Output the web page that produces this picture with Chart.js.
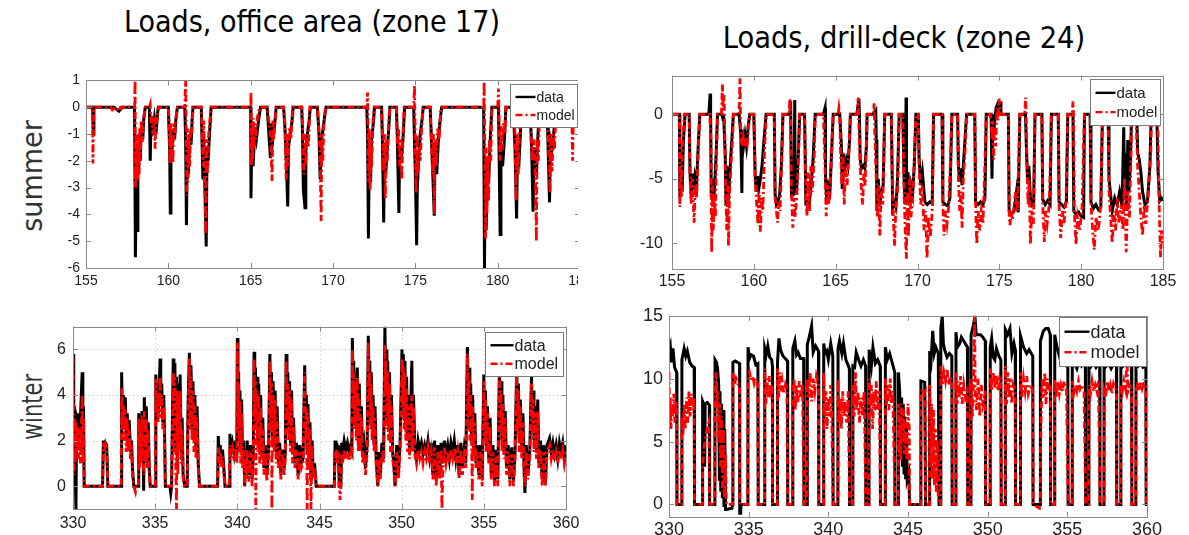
<!DOCTYPE html>
<html>
<head>
<meta charset="utf-8">
<script src="https://cdn.jsdelivr.net/npm/chart.js@4.4.0/dist/chart.umd.min.js"></script>
<style>
  body { margin: 0; width: 1189px; height: 535px; background: #fff; position: relative; overflow: hidden; }
  .lbl { position: absolute; white-space: nowrap; font-family: 'Liberation Sans Narrow', 'DejaVu Sans Condensed', 'Liberation Sans', sans-serif; font-size: 31px; color: #000; line-height: 1; }
  .row { color: #333; font-size: 29px; }
  canvas { position: absolute; }
  #clipTL { position: absolute; left: 0; top: 0; width: 578px; height: 305px; overflow: hidden; }
</style>
</head>
<body>
<div class="lbl" id="title1">Loads, office area (zone 17)</div>
<div class="lbl" id="title2">Loads, drill-deck (zone 24)</div>
<div class="lbl row" id="rowSummer">summer</div>
<div class="lbl row" id="rowWinter">winter</div>
<div id="clipTL"><canvas id="cTL"></canvas></div>
<canvas id="cTR"></canvas>
<canvas id="cBL"></canvas>
<canvas id="cBR"></canvas>
<script>
// --- ticks ---
const summerDays = [155, 160, 165, 170, 175, 180, 185];
const winterDays = [330, 335, 340, 345, 350, 355, 360];
const tlYTicks = [-6, -5, -4, -3, -2, -1, 0, 1];
const trYTicks = [-10, -5, 0];
const blYTicks = [0, 2, 4, 6];
const brYTicks = [0, 5, 10, 15];
const seriesNames = ['data', 'model'];

// --- summer, office area (zone 17): [day, load] ---
const tlData = [[155,0],[155.4,0],[155.44,-1.0],[155.48,0],[156.7,0],[156.8,-0.05],[157.0,-0.15],[157.2,0],
[157.95,0],[158.0,-5.6],[158.05,-3.0],[158.1,-4.6],[158.15,-1.5],[158.2,-2.5],[158.25,-1.0],[158.3,-2.0],[158.35,-0.8],[158.45,-1.2],[158.5,-0.5],[158.6,0],
[158.85,0],[158.9,-2.0],[158.95,-0.5],[159.05,-0.8],[159.15,-0.4],[159.25,-1.0],[159.35,-0.2],[159.4,0],
[160.0,0],[160.08,-1.6],[160.12,-3.95],[160.16,-1.0],[160.22,-1.6],[160.3,-0.8],[160.38,-1.2],[160.45,-0.5],[160.55,0],
[161.0,0],[161.05,-1.2],[161.1,-4.4],[161.15,-1.5],[161.22,-2.5],[161.3,-1.0],[161.38,-1.4],[161.45,-0.4],[161.5,0],
[162.0,0],[162.1,-2.7],[162.15,-1.0],[162.3,-5.2],[162.35,-1.5],[162.42,-2.0],[162.5,-1.0],[162.6,0],
[165.0,0],[165.02,-3.4],[165.07,-1.0],[165.15,-2.2],[165.25,-0.8],[165.35,-1.2],[165.5,-0.4],[165.6,0],
[166.0,0],[166.2,-1.9],[166.25,-0.6],[166.35,-1.2],[166.45,-0.7],[166.55,0],
[167.0,0],[167.1,-1.0],[167.2,-2.7],[167.25,-3.7],[167.3,-1.5],[167.4,-1.0],[167.5,-0.6],[167.58,0],
[168.1,0],[168.15,-1.0],[168.2,-3.1],[168.3,-3.75],[168.35,-1.5],[168.45,-1.0],[168.55,-0.5],[168.62,0],
[169.05,0],[169.15,-1.0],[169.22,-2.7],[169.3,-1.2],[169.4,-0.8],[169.5,-0.3],[169.58,0],
[172.05,0],[172.1,-1.0],[172.15,-4.9],[172.2,-2.0],[172.28,-2.8],[172.35,-1.2],[172.45,-0.6],[172.52,0],
[172.95,0],[173.0,-1.2],[173.08,-4.3],[173.12,-1.8],[173.2,-2.5],[173.3,-1.5],[173.4,-0.7],[173.45,0],
[173.85,0],[173.9,-1.0],[174.0,-3.95],[174.05,-1.5],[174.15,-2.0],[174.25,-1.2],[174.35,0],
[174.9,0],[175.0,-2.5],[175.08,-5.15],[175.12,-3.0],[175.2,-2.0],[175.3,-1.0],[175.4,-0.5],[175.48,0],
[175.9,0],[176.0,-1.5],[176.15,-4.05],[176.2,-1.5],[176.3,-2.5],[176.4,-1.2],[176.5,-0.5],[176.6,0],
[179.15,0],[179.2,-6.0],[179.25,-2.0],[179.3,-4.6],[179.38,-2.0],[179.45,-2.8],[179.55,-1.2],[179.65,0],
[180.05,0],[180.15,-4.75],[180.2,-1.5],[180.3,-2.2],[180.4,-1.3],[180.5,0],
[180.95,0],[181.05,-1.5],[181.15,-4.15],[181.2,-1.8],[181.3,-2.0],[181.38,-1.0],[181.45,0],
[181.95,0],[182.05,-1.2],[182.15,-3.9],[182.22,-1.5],[182.35,-2.5],[182.45,-1.0],[182.55,0],
[183.0,0],[183.15,-3.55],[183.2,-1.2],[183.3,-1.5],[183.4,-1.0],[183.5,-0.3],[183.6,0],
[184.5,0],[184.6,-0.4],[184.7,0],[185,-0.3]];

const tlModel = [[155,0],[155.4,0],[155.42,-2.1],[155.46,-0.2],[155.5,0],[156.5,0],[156.6,-0.1],[156.8,0],[157.0,-0.15],[157.1,0],
[157.95,0],[157.98,1.0],[158.0,-3.0],[158.03,-1.0],[158.06,-2.8],[158.1,-1.2],[158.14,-2.7],[158.18,-1.0],[158.22,-2.5],[158.26,-0.8],[158.3,-2.0],[158.35,-0.5],[158.42,-1.3],[158.5,-0.4],[158.6,0],
[158.85,0],[158.9,0.1],[158.95,-0.6],[159.0,-0.3],[159.05,-1.0],[159.1,-0.4],[159.2,-1.55],[159.25,-0.3],[159.3,-0.6],[159.38,0],
[160.0,0],[160.05,-0.5],[160.1,-2.1],[160.14,-0.6],[160.18,-1.8],[160.22,-0.8],[160.28,-2.1],[160.33,-0.6],[160.4,-1.0],[160.5,-0.2],[160.55,0],
[161.0,0],[161.05,1.0],[161.08,-0.5],[161.12,-3.3],[161.16,-0.8],[161.2,-2.8],[161.25,-1.0],[161.3,-2.2],[161.35,-0.8],[161.42,-1.0],[161.5,0],
[162.0,0],[162.05,-0.8],[162.1,-2.2],[162.15,-0.5],[162.2,-2.6],[162.27,-4.75],[162.32,-1.2],[162.38,-2.5],[162.45,-1.0],[162.55,-0.3],[162.62,0],
[165.0,0],[165.02,0.55],[165.05,-2.2],[165.08,-0.6],[165.12,-2.0],[165.16,-0.4],[165.2,-1.6],[165.26,-0.6],[165.32,-1.2],[165.4,-0.4],[165.55,0],
[166.0,0],[166.1,-0.5],[166.2,-1.0],[166.3,-2.75],[166.35,-0.5],[166.4,-1.2],[166.47,-0.6],[166.55,0],
[167.0,0],[167.08,-0.6],[167.15,-2.7],[167.2,-1.0],[167.28,-2.2],[167.35,-0.8],[167.45,-1.2],[167.55,0],
[168.1,0],[168.15,-0.6],[168.22,-2.5],[168.28,-1.0],[168.35,-2.2],[168.42,-1.0],[168.5,-1.5],[168.6,0],
[169.05,0],[169.12,-0.6],[169.2,-1.5],[169.28,-4.25],[169.32,-1.0],[169.38,-2.0],[169.45,-0.6],[169.55,0],
[172.05,0],[172.1,0.55],[172.13,-1.0],[172.17,-2.8],[172.2,-0.8],[172.25,-3.1],[172.3,-1.2],[172.35,-2.2],[172.42,-0.6],[172.5,0],
[172.95,0],[173.0,-0.8],[173.06,-2.4],[173.12,-1.0],[173.18,-3.4],[173.22,-1.2],[173.3,-2.0],[173.38,-0.6],[173.45,0],
[173.85,0],[173.92,-1.5],[173.98,-0.8],[174.05,-2.2],[174.1,-1.2],[174.18,-2.7],[174.25,-1.0],[174.32,0],
[174.9,0],[174.95,0.8],[175.0,-1.5],[175.05,-3.2],[175.1,-1.0],[175.15,-2.5],[175.22,-1.5],[175.3,-2.0],[175.38,-0.8],[175.48,0],
[175.9,0],[175.95,-1.0],[176.05,-2.5],[176.1,-1.0],[176.15,-4.0],[176.2,-1.2],[176.28,-2.2],[176.35,-0.8],[176.45,-1.2],[176.55,0],
[179.15,0],[179.18,0.95],[179.22,-2.0],[179.26,-4.9],[179.3,-1.5],[179.35,-4.0],[179.4,-1.8],[179.45,-3.5],[179.5,-1.2],[179.58,-2.0],[179.65,0],
[180.0,0],[180.05,0.7],[180.1,-0.8],[180.15,-2.0],[180.2,-0.7],[180.28,-1.6],[180.35,-0.6],[180.45,-1.0],[180.5,0],
[180.95,0],[181.0,0.5],[181.05,-1.0],[181.12,-3.5],[181.18,-1.0],[181.25,-2.5],[181.32,-1.0],[181.42,0],
[181.95,0],[182.0,-1.0],[182.1,-2.0],[182.2,-1.2],[182.3,-2.8],[182.35,-5.0],[182.4,-1.2],[182.47,-2.0],[182.55,0],
[183.0,0],[183.05,-0.8],[183.12,-2.0],[183.18,-3.2],[183.22,-1.0],[183.3,-2.4],[183.38,-1.0],[183.45,-1.6],[183.55,0],
[184.4,0],[184.5,-0.2],[184.55,-2.0],[184.6,-0.3],[184.7,0],[184.85,0.8],[184.9,-0.5],[185,0]];

// --- summer, drill-deck (zone 24) ---
const trData = [[155,0],[155.45,0],[155.48,-6.45],[155.55,-4.5],[155.62,-6.0],[155.7,-2.0],[155.8,0],[156.05,0],[156.1,-4.5],[156.18,-6.5],[156.25,-4.6],[156.32,-5.8],[156.4,-4.8],[156.5,-5.5],[156.6,-2.5],[156.7,0],
[157.25,0],[157.33,1.6],[157.36,0],[157.4,-6.4],[157.48,-5.0],[157.55,-6.6],[157.62,-5.2],[157.7,-3.0],[157.78,0],
[158.05,0],[158.12,-0.4],[158.15,0],[158.25,-3.0],[158.3,-7.0],[158.36,-4.0],[158.42,-7.0],[158.5,-5.5],[158.58,-3.5],[158.68,-1.5],[158.75,0],
[159.1,0],[159.2,-1.5],[159.27,-6.1],[159.3,-1.2],[159.38,-2.4],[159.46,-1.6],[159.55,-2.5],[159.65,-1.0],[159.75,0],
[160.0,0],[160.08,-4.7],[160.15,-6.0],[160.22,-4.8],[160.3,-5.8],[160.38,-5.2],[160.5,-4.0],[160.62,-2.0],[160.75,0],
[161.25,0],[161.3,-6.2],[161.38,-7.0],[161.48,-6.8],[161.58,-6.2],[161.68,-4.0],[161.78,0],
[162.2,0],[162.25,1.0],[162.3,-6.5],[162.38,-5.8],[162.45,-6.3],[162.5,1.1],[162.52,-6.0],[162.62,-5.8],[162.72,-3.0],[162.8,0],
[163.1,0],[163.18,-6.9],[163.28,-6.8],[163.38,-7.0],[163.5,-5.5],[163.62,-3.5],[163.75,0],
[164.25,0],[164.35,0.5],[164.38,-5.0],[164.45,-6.5],[164.55,-5.5],[164.65,-6.0],[164.75,-3.0],[164.85,0],
[165.25,0],[165.35,-2.5],[165.4,-5.8],[165.45,-3.0],[165.55,-4.2],[165.65,-3.5],[165.75,-4.0],[165.85,-2.0],[165.9,0],
[166.3,0],[166.42,1.2],[166.45,0],[166.5,-3.5],[166.58,-4.2],[166.68,-4.0],[166.78,-4.2],[166.88,-2.5],[166.92,0],
[167.3,0],[167.45,0.3],[167.48,-2.0],[167.52,-7.5],[167.6,-5.0],[167.7,-7.0],[167.8,-6.0],[167.9,-5.5],[168.0,0],
[168.4,0],[168.48,-7.2],[168.58,-6.8],[168.68,-7.2],[168.78,-5.0],[168.88,0],
[169.1,0],[169.18,-5.0],[169.25,-7.0],[169.3,1.3],[169.33,-6.8],[169.42,-4.5],[169.5,-6.8],[169.6,-5.5],[169.7,-6.2],[169.8,-4.0],[169.9,0],
[170.05,0],[170.1,-3.5],[170.2,-5.5],[170.3,-4.5],[170.45,-6.8],[170.6,-7.0],[170.75,-6.8],[170.9,-6.9],[170.98,0],
[171.5,0],[171.55,-6.8],[171.7,-7.0],[171.85,-7.1],[171.98,-6.5],[172.1,0],
[172.45,0],[172.5,-4.0],[172.58,-5.2],[172.65,-4.2],[172.72,-5.5],[172.8,-4.0],[172.9,-2.0],[173.0,0],
[173.5,0],[173.55,-6.8],[173.7,-7.0],[173.85,-6.8],[174.0,-7.0],[174.12,-6.5],[174.2,0],
[174.5,0],[174.55,-5.0],[174.6,0],[174.7,-0.8],[174.8,0.5],[174.9,0.8],[175.0,0.5],[175.05,1.0],[175.1,0],
[175.55,0],[175.6,-7.5],[175.75,-7.7],[175.9,-7.5],[176.05,-6.0],[176.15,-7.6],[176.25,0],
[176.6,0],[176.65,-2.5],[176.72,-5.0],[176.8,-4.0],[176.9,-6.5],[177.0,-7.0],[177.1,-6.8],[177.18,0],
[177.6,0],[177.65,-6.6],[177.8,-7.0],[177.95,-6.7],[178.1,-7.0],[178.18,0],
[178.6,0],[178.65,-6.8],[178.8,-7.0],[178.95,-7.2],[179.1,-6.8],[179.18,0],
[179.5,0],[179.55,-7.5],[179.7,-7.8],[179.85,-7.6],[180.0,-7.9],[180.15,-8.0],[180.2,0],
[180.55,0],[180.6,-6.8],[180.75,-7.3],[180.9,-7.0],[181.05,-7.4],[181.2,-7.2],[181.3,0],
[181.65,0],[181.7,-5.0],[181.78,-6.0],[181.9,-7.5],[182.05,-6.5],[182.2,-7.0],[182.35,-6.0],[182.5,-7.2],[182.6,-1.0],[182.65,-5.0],[182.7,-3.0],[182.78,-7.5],[182.85,-2.0],[182.92,-6.0],[183.0,-4.0],[183.08,0],
[183.4,0],[183.45,-3.0],[183.55,-3.5],[183.65,-4.5],[183.75,-6.0],[183.9,-7.0],[184.05,-6.8],[184.2,-4.0],[184.28,0],
[184.62,0],[184.7,-4.5],[184.8,-6.7],[184.9,-6.5],[185,-6.7]];

const trModel = [[155,0],[155.45,0],[155.48,-7.2],[155.52,-4.0],[155.58,-6.5],[155.65,-2.5],[155.75,0],[156.05,0],[156.1,-5.0],[156.18,-7.0],[156.25,-5.0],[156.35,-8.4],[156.42,-5.5],[156.5,-6.5],[156.6,-3.0],[156.7,0],
[157.3,0],[157.38,-2.0],[157.42,-10.7],[157.48,-5.5],[157.52,-9.0],[157.58,-6.5],[157.65,-8.0],[157.72,-3.0],[157.78,0],
[158.02,0],[158.08,2.3],[158.12,0.5],[158.18,1.5],[158.22,-1.0],[158.28,-6.0],[158.35,-9.0],[158.4,-5.5],[158.45,-10.2],[158.52,-6.0],[158.6,-4.0],[158.7,-2.0],[158.75,0],
[159.1,0],[159.15,2.8],[159.2,-1.5],[159.28,-2.5],[159.35,-1.8],[159.42,-2.6],[159.5,-1.8],[159.6,-2.3],[159.68,-1.0],[159.75,0],
[160.0,0],[160.08,-5.0],[160.15,-6.5],[160.25,-8.5],[160.32,-6.0],[160.4,-9.1],[160.48,-6.5],[160.55,-7.5],[160.65,-3.0],[160.75,0],
[161.25,0],[161.3,-6.5],[161.38,-7.5],[161.45,-8.4],[161.52,-6.8],[161.6,-7.5],[161.7,-4.0],[161.78,0],
[162.15,0],[162.2,1.2],[162.25,0],[162.3,-6.0],[162.38,-8.8],[162.45,-6.5],[162.52,-8.0],[162.62,-6.5],[162.72,-3.5],[162.8,0],
[163.1,0],[163.18,-6.5],[163.25,-7.9],[163.32,-4.5],[163.4,-7.5],[163.48,-4.0],[163.58,-6.0],[163.7,-3.0],[163.75,0],
[164.25,0],[164.35,-4.0],[164.42,-7.9],[164.5,-5.5],[164.58,-7.0],[164.68,-5.0],[164.78,-2.0],[164.85,0],
[165.15,0],[165.2,0.5],[165.25,0],[165.3,-3.0],[165.38,-5.5],[165.45,-3.0],[165.52,-7.0],[165.6,-4.0],[165.7,-5.5],[165.8,-3.0],[165.9,0],
[166.3,0],[166.38,1.3],[166.42,-1.0],[166.5,-4.0],[166.58,-6.0],[166.65,-7.0],[166.72,-4.5],[166.8,-5.5],[166.88,-2.0],[166.92,0],
[167.3,0],[167.35,0.85],[167.4,-2.0],[167.48,-5.0],[167.55,-8.0],[167.62,-5.5],[167.7,-9.4],[167.78,-6.0],[167.88,-7.0],[167.95,-3.0],[168.0,0],
[168.4,0],[168.45,-4.0],[168.52,-8.0],[168.6,-10.2],[168.68,-7.0],[168.78,-6.0],[168.88,0],
[169.1,0],[169.18,-6.0],[169.25,-9.0],[169.32,-11.2],[169.38,-6.0],[169.45,-9.5],[169.52,-5.0],[169.6,-8.0],[169.7,-6.5],[169.8,-4.0],[169.9,0],
[170.05,0],[170.1,-4.0],[170.2,-7.0],[170.3,-5.5],[170.4,-9.0],[170.5,-7.5],[170.58,-11.2],[170.67,-8.0],[170.78,-9.5],[170.9,-7.5],[170.98,0],
[171.5,0],[171.55,-7.0],[171.62,-9.4],[171.7,-7.5],[171.8,-8.5],[171.9,-7.2],[172.0,-4.0],[172.1,0],
[172.45,0],[172.5,-5.0],[172.58,-7.5],[172.65,-6.0],[172.72,-8.8],[172.8,-5.0],[172.9,-3.0],[173.0,0],
[173.5,0],[173.55,-7.0],[173.62,-10.1],[173.7,-7.5],[173.8,-9.0],[173.9,-7.5],[174.0,-8.5],[174.12,-4.0],[174.2,0],
[174.45,0],[174.5,-0.5],[174.55,-2.0],[174.6,-0.5],[174.65,-3.5],[174.7,-1.0],[174.78,-2.5],[174.85,0.5],[174.92,-0.5],[174.98,1.2],[175.05,0.6],[175.1,0],
[175.55,0],[175.6,-7.8],[175.65,-8.6],[175.72,-7.5],[175.8,-8.2],[175.9,-7.0],[176.0,-6.0],[176.1,-7.5],[176.2,-3.0],[176.25,0],
[176.55,0],[176.6,1.3],[176.64,0],[176.68,-3.0],[176.75,-7.0],[176.82,-5.0],[176.9,-10.1],[176.98,-7.5],[177.08,-8.5],[177.18,0],
[177.6,0],[177.65,-7.0],[177.75,-9.9],[177.82,-7.5],[177.92,-8.5],[178.05,-7.0],[178.18,0],
[178.6,0],[178.65,-7.0],[178.75,-9.6],[178.85,-7.5],[178.95,-8.5],[179.08,-6.5],[179.18,0],
[179.45,0],[179.5,1.0],[179.53,0],[179.58,-7.5],[179.68,-10.1],[179.78,-8.0],[179.9,-9.0],[180.05,-7.5],[180.2,0],
[180.55,0],[180.6,-7.0],[180.7,-9.0],[180.8,-10.5],[180.9,-8.0],[181.05,-9.0],[181.2,-7.0],[181.3,0],
[181.65,0],[181.7,-6.0],[181.8,-8.0],[181.9,-10.0],[182.0,-7.5],[182.1,-9.0],[182.2,-6.5],[182.3,-8.5],[182.45,-7.0],[182.55,-9.0],[182.65,-5.0],[182.75,-10.7],[182.85,-6.0],[182.95,-8.0],[183.05,-3.0],[183.1,0],
[183.25,0],[183.3,1.0],[183.35,0],[183.45,-4.0],[183.55,-6.0],[183.65,-8.0],[183.75,-9.4],[183.85,-7.0],[183.95,-8.5],[184.1,-6.0],[184.25,-3.0],[184.3,0],
[184.6,0],[184.65,1.2],[184.7,-2.0],[184.78,-8.0],[184.85,-11.1],[184.92,-9.0],[185,-10.0]];

// --- winter, office area (zone 17) ---
const blData = [[330,5.8],[330.03,3.4],[330.06,1.0],[330.1,3.3],[330.14,0.5],[330.18,-1.0],[330.22,3.0],[330.28,2.8],[330.34,3.2],[330.4,2.0],[330.45,3.0],[330.56,5.0],[330.6,1.5],[330.64,3.5],[330.68,0],
[331.8,0],[331.85,2.0],[331.92,1.7],[331.98,1.9],[332.05,1.8],[332.12,0],
[332.93,0],[332.96,5.0],[333.0,3.0],[333.06,4.0],[333.12,2.5],[333.18,3.9],[333.24,2.0],[333.3,3.2],[333.36,1.8],[333.42,2.9],[333.5,1.5],[333.56,2.0],[333.62,0.8],[333.7,0],
[333.98,0],[334.0,3.2],[334.05,1.0],[334.1,3.0],[334.15,1.2],[334.2,3.3],[334.26,2.0],[334.3,-0.2],[334.34,3.9],[334.4,1.5],[334.46,3.5],[334.52,1.0],[334.58,2.8],[334.64,0.8],[334.7,0],
[335.0,0],[335.04,4.9],[335.08,3.6],[335.13,4.3],[335.18,3.2],[335.24,4.2],[335.3,5.6],[335.34,3.5],[335.4,4.5],[335.46,2.8],[335.52,4.0],[335.58,2.0],[335.62,0],[335.9,0],[335.95,-0.3],[336.0,0],
[336.05,3.0],[336.1,5.6],[336.14,2.0],[336.2,5.4],[336.25,1.5],[336.3,4.8],[336.35,0.8],[336.4,4.5],[336.46,2.0],[336.52,4.9],[336.58,1.5],[336.64,3.0],[336.7,0.5],[336.8,0],
[336.95,0],[337.0,3.5],[337.08,5.85],[337.12,3.0],[337.18,5.3],[337.24,2.5],[337.3,4.6],[337.36,2.0],[337.42,4.0],[337.48,1.5],[337.55,3.5],[337.62,1.0],[337.7,0],
[338.8,0],[338.84,2.2],[338.9,1.2],[338.96,1.8],[339.02,1.0],[339.1,1.6],[339.18,0.8],[339.25,0],[339.5,0],[339.55,2.3],[339.6,1.5],[339.7,1.9],[339.8,1.4],[339.9,2.0],[339.97,1.2],
[340.0,6.5],[340.04,3.0],[340.08,5.0],[340.12,2.0],[340.16,4.2],[340.2,1.5],[340.26,3.8],[340.32,1.0],[340.38,2.0],[340.45,0],[340.5,1.5],[340.55,0.5],[340.6,2.0],[340.7,0.5],[340.8,1.8],[340.9,0.3],[340.97,1.5],
[341.02,5.9],[341.06,3.5],[341.1,5.2],[341.15,2.5],[341.2,4.8],[341.25,2.0],[341.3,4.5],[341.36,1.5],[341.42,4.0],[341.48,1.2],[341.55,3.0],[341.62,0.8],[341.7,1.8],[341.8,0.5],[341.9,1.5],
[341.98,5.8],[342.03,3.0],[342.08,5.0],[342.13,2.2],[342.18,4.6],[342.24,1.8],[342.3,4.2],[342.36,1.5],[342.42,3.5],[342.5,1.0],[342.58,1.9],[342.65,0.5],[342.75,1.6],[342.85,0.8],[342.92,1.5],
[342.97,5.8],[343.02,3.5],[343.07,5.0],[343.12,2.5],[343.18,4.6],[343.24,1.8],[343.3,4.2],[343.36,1.5],[343.42,3.0],[343.5,1.0],[343.6,1.9],[343.7,0.5],[343.8,1.8],[343.9,1.0],[344.0,1.2],
[344.1,5.3],[344.15,2.5],[344.2,4.0],[344.25,1.5],[344.3,3.6],[344.36,1.0],[344.42,2.8],[344.48,0.3],[344.55,2.0],[344.62,0.5],[344.7,1.0],[344.8,0],
[345.9,0],[345.95,2.0],[346.0,1.5],[346.05,1.9],[346.1,1.4],[346.15,1.8],[346.2,0],[346.3,0],[346.35,1.9],[346.4,1.5],[346.5,2.0],[346.6,1.6],[346.7,1.9],[346.8,1.5],[346.9,1.8],[346.97,1.6],
[347.0,6.5],[347.04,4.0],[347.08,5.5],[347.12,3.0],[347.18,5.0],[347.24,2.5],[347.3,5.2],[347.36,2.0],[347.42,4.5],[347.48,1.8],[347.55,3.5],[347.62,1.5],[347.7,1.9],[347.8,0.8],[347.9,1.8],
[347.97,6.6],[348.02,4.5],[348.06,5.5],[348.1,3.0],[348.15,5.0],[348.2,2.5],[348.26,4.0],[348.32,1.8],[348.38,3.5],[348.45,1.2],[348.55,0],[348.6,1.5],[348.7,0.5],[348.8,1.9],[348.9,1.2],
[348.98,7.0],[349.02,4.5],[349.06,6.0],[349.1,3.0],[349.15,5.5],[349.2,2.5],[349.26,5.0],[349.32,2.0],[349.38,4.0],[349.45,1.5],[349.52,1.0],[349.6,0],[349.7,1.8],[349.8,0.5],[349.9,1.8],
[350.02,6.0],[350.06,4.0],[350.1,5.8],[350.15,3.0],[350.2,5.5],[350.25,2.5],[350.3,4.8],[350.36,2.0],[350.42,4.0],[350.48,1.5],[350.55,3.5],[350.62,5.5],[350.66,2.0],[350.72,4.0],[350.8,1.7],[350.9,1.2],
[351.0,2.0],[351.1,1.6],[351.2,1.9],[351.3,1.4],[351.4,1.8],[351.5,1.5],[351.6,2.0],[351.7,1.3],[351.8,1.9],[351.9,0.5],[352.0,2.0],[352.1,0.3],[352.2,1.8],[352.3,0.5],[352.4,1.9],[352.5,1.0],[352.6,2.0],[352.7,1.4],[352.8,1.8],[352.9,1.2],
[353.0,1.9],[353.1,1.5],[353.2,2.0],[353.3,1.2],[353.4,1.8],[353.5,0.5],[353.6,1.9],[353.7,0.8],[353.8,1.6],[353.9,1.0],
[354.0,6.1],[354.05,3.5],[354.1,5.2],[354.15,2.5],[354.2,4.5],[354.26,2.0],[354.32,4.0],[354.38,1.5],[354.45,3.2],[354.52,1.0],[354.6,1.8],[354.7,0.5],[354.8,1.8],[354.9,0.3],
[355.0,4.9],[355.05,2.5],[355.1,4.2],[355.15,1.8],[355.22,3.5],[355.3,1.2],[355.38,3.0],[355.45,0.5],[355.55,1.8],[355.65,0.2],[355.75,1.6],[355.85,0.3],
[355.95,5.2],[356.0,3.0],[356.05,4.6],[356.1,2.0],[356.16,4.0],[356.22,1.5],[356.3,3.3],[356.38,0.8],[356.48,1.8],[356.58,0.3],[356.7,1.7],[356.8,0.2],[356.9,1.5],
[357.0,5.2],[357.05,3.0],[357.1,4.5],[357.15,2.0],[357.22,3.8],[357.3,1.5],[357.38,3.2],[357.45,0.8],[357.5,-0.3],[357.58,1.8],[357.68,0.5],[357.8,1.6],
[357.9,4.8],[357.95,3.0],[358.0,4.2],[358.05,2.0],[358.12,3.5],[358.2,1.5],[358.28,3.8],[358.35,1.0],[358.45,2.0],[358.55,0.3],[358.65,1.8],[358.75,0.2],[358.85,1.8],
[359.0,2.1],[359.1,1.5],[359.2,1.9],[359.3,1.4],[359.4,1.8],[359.5,1.2],[359.6,1.9],[359.7,1.5],[359.8,1.9],[359.9,1.2],[360,1.8]];

const blModel = [[330,5.6],[330.03,3.0],[330.06,0.5],[330.1,3.0],[330.14,1.0],[330.18,2.8],[330.22,1.5],[330.28,2.6],[330.34,1.2],[330.4,2.5],[330.45,1.0],[330.56,4.0],[330.6,1.0],[330.64,3.0],[330.68,0],
[331.8,0],[331.85,1.9],[331.92,1.5],[331.98,1.8],[332.05,1.6],[332.12,0],
[332.93,0],[332.97,4.3],[333.0,2.5],[333.06,3.6],[333.12,2.0],[333.18,3.4],[333.24,1.5],[333.3,3.0],[333.36,1.5],[333.42,2.5],[333.5,1.2],[333.56,1.8],[333.62,0.5],[333.7,0],[333.8,-0.25],[333.85,0],
[333.98,0],[334.0,3.0],[334.05,0.8],[334.1,2.8],[334.15,1.0],[334.2,3.1],[334.26,1.5],[334.3,0.5],[334.34,3.3],[334.4,1.2],[334.46,3.0],[334.52,0.8],[334.58,2.5],[334.64,0.5],[334.7,0],
[335.0,0],[335.04,4.7],[335.08,3.2],[335.13,4.0],[335.18,2.8],[335.24,3.8],[335.3,4.8],[335.34,3.0],[335.4,4.0],[335.46,2.5],[335.52,3.5],[335.58,1.5],[335.62,0],[336.0,0],
[336.05,2.5],[336.1,5.0],[336.14,1.5],[336.2,4.8],[336.25,1.0],[336.3,-1.0],[336.33,4.2],[336.38,0.5],[336.42,4.0],[336.48,1.5],[336.52,4.2],[336.58,1.0],[336.64,2.5],[336.7,0.3],[336.8,0],
[336.95,0],[337.0,3.0],[337.08,5.6],[337.12,2.5],[337.18,4.8],[337.24,2.0],[337.3,4.2],[337.36,1.5],[337.42,3.5],[337.48,1.2],[337.55,3.0],[337.62,0.8],[337.7,0],
[338.8,0],[338.84,1.7],[338.9,1.0],[338.96,1.5],[339.02,0.8],[339.1,1.3],[339.18,0.5],[339.25,0],[339.5,0],[339.55,1.8],[339.6,1.2],[339.7,1.6],[339.8,1.1],[339.9,1.7],[339.97,1.0],
[340.0,6.3],[340.04,2.5],[340.08,4.5],[340.12,1.5],[340.16,3.8],[340.2,1.0],[340.26,3.2],[340.32,0.8],[340.38,1.6],[340.45,0],[340.5,1.2],[340.55,0.3],[340.6,1.6],[340.7,0.2],[340.8,1.5],[340.9,0],[340.97,1.2],
[341.02,5.6],[341.06,3.0],[341.1,4.6],[341.12,-1.0],[341.15,2.0],[341.2,4.2],[341.25,1.5],[341.3,4.0],[341.36,1.0],[341.42,3.5],[341.48,1.0],[341.55,2.5],[341.62,0.5],[341.7,1.5],[341.8,0.2],[341.9,1.2],
[341.98,5.5],[342.03,2.5],[342.08,4.5],[342.1,-1.0],[342.13,1.8],[342.18,4.0],[342.24,1.5],[342.3,3.8],[342.36,1.0],[342.42,3.0],[342.5,0.8],[342.58,1.6],[342.65,0.3],[342.75,1.4],[342.85,0.5],[342.92,1.2],
[342.97,5.5],[343.02,3.0],[343.07,4.5],[343.12,2.0],[343.18,4.2],[343.24,1.5],[343.3,3.8],[343.36,1.0],[343.42,2.6],[343.5,0.8],[343.6,1.6],[343.7,0.3],[343.8,1.5],[343.9,0.8],[344.0,1.0],
[344.1,5.0],[344.15,2.0],[344.2,3.5],[344.25,-1.0],[344.3,3.2],[344.36,0.8],[344.42,2.5],[344.48,-1.0],[344.55,1.8],[344.62,0.3],[344.7,0.8],[344.8,0],
[345.9,0],[345.95,1.5],[346.0,1.2],[346.05,1.6],[346.1,1.0],[346.15,1.5],[346.2,0],[346.25,-0.6],[346.3,0],[346.35,1.4],[346.4,1.0],[346.5,1.6],[346.6,1.2],[346.7,1.5],[346.8,1.1],[346.9,1.5],[346.97,1.2],
[347.0,6.0],[347.04,3.5],[347.08,5.0],[347.12,2.5],[347.18,4.5],[347.24,2.0],[347.3,4.8],[347.36,1.5],[347.42,4.0],[347.48,1.5],[347.55,3.0],[347.62,1.0],[347.7,1.5],[347.8,0.5],[347.9,1.5],
[347.97,6.3],[348.02,4.0],[348.06,5.0],[348.1,2.5],[348.15,4.5],[348.2,2.0],[348.26,3.5],[348.32,1.5],[348.38,3.0],[348.45,0.8],[348.55,0],[348.6,1.2],[348.7,0.3],[348.8,1.5],[348.9,1.0],
[348.98,6.2],[349.02,4.0],[349.06,5.5],[349.1,2.5],[349.15,5.0],[349.2,2.0],[349.26,4.5],[349.32,1.5],[349.38,3.5],[349.45,1.2],[349.52,0.8],[349.6,0],[349.7,1.5],[349.8,0.3],[349.9,1.5],
[350.02,5.6],[350.06,3.5],[350.1,5.3],[350.15,2.5],[350.2,5.0],[350.25,2.0],[350.3,4.3],[350.36,1.5],[350.42,3.5],[350.48,1.2],[350.55,3.0],[350.62,4.0],[350.66,1.5],[350.72,3.5],[350.8,1.4],[350.9,1.0],
[351.0,1.6],[351.1,1.2],[351.2,1.5],[351.3,1.0],[351.4,1.5],[351.5,1.2],[351.6,1.7],[351.7,1.0],[351.8,1.5],[351.9,0.3],[352.0,1.7],[352.1,0],[352.2,1.5],[352.3,0.3],[352.4,1.6],[352.45,-1.0],[352.5,0.5],[352.6,1.7],[352.7,1.0],[352.8,1.5],[352.9,1.0],
[353.0,1.6],[353.1,1.2],[353.2,1.7],[353.3,1.0],[353.4,1.5],[353.5,0.3],[353.6,1.6],[353.7,0.5],[353.8,1.3],[353.9,0.8],
[354.0,5.8],[354.05,3.0],[354.1,4.8],[354.15,2.0],[354.2,4.0],[354.26,1.5],[354.3,-0.6],[354.32,3.5],[354.38,1.2],[354.45,2.8],[354.52,0.8],[354.6,1.5],[354.7,0.3],[354.8,1.5],[354.9,0],
[355.0,4.6],[355.05,2.0],[355.1,3.8],[355.15,1.5],[355.22,3.2],[355.3,1.0],[355.38,2.6],[355.45,0.3],[355.55,1.5],[355.65,0],[355.75,1.3],[355.85,0],
[355.95,4.8],[356.0,2.5],[356.05,4.2],[356.1,1.5],[356.16,3.6],[356.22,1.2],[356.3,3.0],[356.38,0.5],[356.48,1.5],[356.58,0],[356.7,1.4],[356.8,0],[356.9,1.2],
[357.0,5.0],[357.05,2.5],[357.1,4.2],[357.15,1.5],[357.22,3.5],[357.3,1.2],[357.38,2.8],[357.45,0.5],[357.5,0],[357.58,1.5],[357.68,0.3],[357.8,1.3],
[357.9,4.5],[357.95,2.5],[358.0,3.8],[358.05,1.5],[358.12,3.2],[358.2,1.2],[358.28,3.3],[358.35,0.8],[358.45,1.6],[358.55,0],[358.65,1.5],[358.75,0],[358.85,1.5],
[359.0,1.8],[359.1,1.2],[359.2,1.6],[359.3,1.1],[359.4,1.5],[359.5,1.0],[359.6,1.6],[359.7,1.2],[359.8,1.6],[359.9,1.0],[360,1.5]];

// --- winter, drill-deck (zone 24) ---
const brData = [[330,12.2],[330.08,12.6],[330.15,11.3],[330.25,12.4],[330.35,10.9],[330.48,10.5],[330.5,0],[330.8,0],
[330.81,11.5],[330.95,12.4],[331.05,11.8],[331.15,12.2],[331.3,11.3],[331.45,11.0],[331.58,10.9],[331.6,0],[332.1,0],
[332.11,8.2],[332.2,7.9],[332.24,3.0],[332.27,8.0],[332.4,8.1],[332.53,7.9],[332.55,0],[332.88,0],
[332.89,11.5],[332.98,11.3],[333.05,10.8],[333.12,9.5],[333.16,2.0],[333.2,9.0],[333.25,1.0],[333.3,8.0],[333.35,0.5],[333.4,7.5],[333.45,-0.2],[333.5,6.0],[333.55,-0.4],[333.6,-0.4],[333.95,-0.3],[334.0,0],
[334.01,11.3],[334.15,11.4],[334.3,11.3],[334.43,11.2],[334.44,-0.7],[334.5,-0.7],[334.52,0],[334.95,0],
[334.96,12.5],[335.05,11.6],[335.15,11.9],[335.3,11.8],[335.45,11.1],[335.58,11.2],[335.6,0],[336.0,0],
[336.01,12.4],[336.1,11.9],[336.2,12.6],[336.32,11.7],[336.45,11.5],[336.49,11.0],[336.5,0],[336.8,0],
[336.81,11.3],[336.9,13.2],[337.0,12.3],[337.15,11.8],[337.3,11.6],[337.44,11.4],[337.45,0],[337.76,0],
[337.77,12.4],[337.9,13.0],[338.0,11.9],[338.1,12.1],[338.25,11.6],[338.45,11.6],[338.47,0],[338.67,0],
[338.68,12.7],[338.8,13.3],[338.95,14.2],[339.05,12.1],[339.2,12.6],[339.38,12.2],[339.4,0],[339.7,0],
[339.71,12.8],[339.8,12.0],[339.9,12.2],[340.0,11.5],[340.15,12.8],[340.28,11.8],[340.3,0],[340.6,0],
[340.61,12.4],[340.7,13.0],[340.85,12.0],[340.95,12.8],[341.1,11.5],[341.2,11.2],[341.32,10.8],[341.33,0],[341.53,0],
[341.54,11.0],[341.65,10.9],[341.75,12.1],[341.9,11.5],[342.05,11.0],[342.2,11.5],[342.34,11.0],[342.35,0],[342.55,0],
[342.56,12.3],[342.7,11.0],[342.8,12.5],[342.95,11.2],[343.1,11.5],[343.26,11.0],[343.27,0],[343.57,0],
[343.58,12.5],[343.7,11.5],[343.85,12.0],[344.0,11.3],[344.17,10.5],[344.18,0],[344.39,0],
[344.4,10.5],[344.48,9.0],[344.55,5.0],[344.6,8.5],[344.65,3.0],[344.7,8.0],[344.75,2.5],[344.8,7.0],[344.85,2.0],[344.9,6.0],[344.95,2.0],[345.05,2.5],[345.1,0],[345.8,0],
[345.81,9.8],[346.05,9.7],[346.1,0],[346.35,0],
[346.36,12.2],[346.45,11.5],[346.55,13.8],[346.65,12.0],[346.75,12.5],[346.9,12.0],[346.95,0],[347.05,0],
[347.06,14.0],[347.15,15.0],[347.22,12.8],[347.3,12.3],[347.45,11.7],[347.6,12.0],[347.75,11.8],[347.77,0],[348.0,0],
[348.01,13.7],[348.1,12.5],[348.25,12.8],[348.35,13.3],[348.5,13.0],[348.73,12.5],[348.75,0],[348.95,0],
[348.96,13.5],[349.1,14.2],[349.2,15.0],[349.28,13.5],[349.4,13.5],[349.55,13.5],[349.7,13.3],[349.85,13.0],[349.87,0],[350.15,0],
[350.16,12.5],[350.25,13.2],[350.35,11.7],[350.45,11.5],[350.55,12.4],[350.7,11.8],[350.83,11.5],[350.85,0],[351.1,0],
[351.11,13.9],[351.25,13.5],[351.4,14.0],[351.52,12.0],[351.65,12.8],[351.73,12.3],[351.75,0],[352.05,0],
[352.06,13.4],[352.25,12.5],[352.45,12.0],[352.6,12.3],[352.83,11.8],[352.85,0],[353.3,0],
[353.31,13.0],[353.5,13.8],[353.65,14.0],[353.8,14.0],[353.93,13.5],[353.95,0],[354.2,0],
[354.21,13.5],[354.35,12.5],[354.5,11.8],[354.65,12.5],[354.8,11.2],[354.95,11.0],[355.03,11.2],[355.05,0],[355.3,0],
[355.31,12.0],[355.45,11.2],[355.6,10.8],[355.75,11.5],[355.9,11.0],[356.05,11.2],[356.13,10.9],[356.15,0],[356.35,0],
[356.36,11.5],[356.5,11.0],[356.65,11.3],[356.8,10.9],[356.95,11.2],[357.03,11.0],[357.05,0],[357.3,0],
[357.31,11.8],[357.45,11.0],[357.6,11.2],[357.75,10.8],[357.9,11.2],[358.08,11.0],[358.1,0],[358.35,0],
[358.36,11.5],[358.5,11.0],[358.65,11.2],[358.75,11.8],[358.9,11.3],[359.03,11.0],[359.05,0],[359.3,0],
[359.31,11.2],[359.45,11.0],[359.6,11.3],[359.75,10.9],[359.93,11.0],[359.95,0],[360,0]];

const brModel = [[330,10.5],[330.04,6.5],[330.08,8.5],[330.12,6.0],[330.18,8.0],[330.24,7.0],[330.3,8.8],[330.36,6.5],[330.42,8.2],[330.48,7.5],[330.5,0],[330.8,0],
[330.81,7.0],[330.88,5.5],[330.95,8.0],[331.02,6.0],[331.1,8.5],[331.18,6.5],[331.25,9.0],[331.32,7.0],[331.4,8.8],[331.5,7.5],[331.58,8.5],[331.6,0],[332.1,0],
[332.11,3.0],[332.2,4.5],[332.3,5.5],[332.4,6.0],[332.5,6.5],[332.55,0],[332.88,0],
[332.89,9.0],[332.95,10.5],[333.0,8.0],[333.06,9.0],[333.12,5.0],[333.18,8.0],[333.24,3.0],[333.3,7.0],[333.36,1.0],[333.42,6.0],[333.48,0.5],[333.55,4.0],[333.6,0],[334.0,0],
[334.01,10.5],[334.1,9.5],[334.2,10.0],[334.3,9.6],[334.42,9.5],[334.45,0],[334.95,0],
[334.96,9.8],[335.05,10.5],[335.15,9.9],[335.25,10.2],[335.35,9.6],[335.45,10.0],[335.58,9.5],[335.6,0],[336.0,0],
[336.01,10.8],[336.08,8.0],[336.15,10.0],[336.22,8.5],[336.3,10.2],[336.38,9.0],[336.48,9.5],[336.5,0],[336.8,0],
[336.81,10.8],[336.88,8.5],[336.95,10.5],[337.02,9.0],[337.1,9.8],[337.2,8.8],[337.3,9.5],[337.4,9.0],[337.45,0],[337.76,0],
[337.77,9.0],[337.85,10.0],[337.92,7.5],[338.0,9.5],[338.08,8.0],[338.18,9.8],[338.28,8.5],[338.38,9.5],[338.47,0],[338.67,0],
[338.68,10.0],[338.75,8.5],[338.85,10.5],[338.95,8.2],[339.05,10.0],[339.15,9.0],[339.25,10.2],[339.38,9.5],[339.4,0],[339.7,0],
[339.71,10.5],[339.78,6.5],[339.85,9.0],[339.92,6.0],[340.0,8.5],[340.08,7.0],[340.15,9.5],[340.22,6.5],[340.3,0],[340.6,0],
[340.61,10.0],[340.68,6.5],[340.75,8.5],[340.82,6.0],[340.9,9.0],[340.98,7.0],[341.06,8.2],[341.15,6.5],[341.25,9.0],[341.33,0],[341.53,0],
[341.54,9.5],[341.62,7.0],[341.7,10.5],[341.78,7.5],[341.86,9.0],[341.95,6.5],[342.05,8.5],[342.15,7.0],[342.25,9.0],[342.35,0],[342.55,0],
[342.56,10.0],[342.63,7.0],[342.7,9.5],[342.78,6.0],[342.85,9.0],[342.93,7.5],[343.0,9.8],[343.1,7.5],[343.2,9.0],[343.27,0],[343.57,0],
[343.58,10.0],[343.65,8.0],[343.72,9.5],[343.8,7.5],[343.88,10.0],[343.96,8.0],[344.05,9.0],[344.18,0],[344.39,0],
[344.4,8.0],[344.45,4.0],[344.5,7.0],[344.55,3.5],[344.6,8.0],[344.65,5.0],[344.72,7.5],[344.78,4.0],[344.85,6.5],[344.92,3.5],[345.0,8.0],[345.08,6.0],[345.1,0],[345.8,0],
[345.81,8.6],[345.9,9.2],[346.0,8.8],[346.08,9.0],[346.1,0],[346.35,0],
[346.36,9.5],[346.42,3.0],[346.48,8.0],[346.54,2.0],[346.6,7.5],[346.66,1.5],[346.72,6.0],[346.78,1.0],[346.84,5.0],[346.9,0.5],[346.95,0],[347.05,0],
[347.06,11.0],[347.15,9.5],[347.25,10.5],[347.35,9.8],[347.45,10.8],[347.55,9.5],[347.65,10.2],[347.77,9.6],[347.8,0],[348.0,0],
[348.01,10.5],[348.08,8.0],[348.15,9.8],[348.22,8.5],[348.3,10.2],[348.4,8.0],[348.5,9.5],[348.6,8.5],[348.72,9.0],[348.75,0],[348.95,0],
[348.96,10.0],[349.05,7.0],[349.12,10.5],[349.18,15.0],[349.22,9.0],[349.3,7.5],[349.4,10.0],[349.5,7.0],[349.6,9.5],[349.7,8.0],[349.85,9.0],[349.87,0],[350.15,0],
[350.16,10.8],[350.25,9.0],[350.35,10.5],[350.45,9.2],[350.55,10.3],[350.65,9.0],[350.75,10.0],[350.83,9.5],[350.85,0],[351.1,0],
[351.11,11.0],[351.18,8.0],[351.26,10.5],[351.34,8.5],[351.42,10.0],[351.5,8.0],[351.6,9.5],[351.73,9.0],[351.75,0],[352.05,0],
[352.06,10.5],[352.15,8.5],[352.25,10.0],[352.35,9.0],[352.45,10.2],[352.55,8.8],[352.7,9.5],[352.83,9.0],[352.85,0],[353.25,-0.3],[353.3,0],
[353.31,3.5],[353.36,7.0],[353.42,10.0],[353.5,8.5],[353.58,10.5],[353.66,8.0],[353.75,10.0],[353.85,9.0],[353.93,9.5],[353.95,0],[354.2,0],
[354.21,10.0],[354.3,8.5],[354.4,9.8],[354.5,8.8],[354.6,9.5],[354.7,9.0],[354.8,9.8],[354.95,9.0],[355.05,0],[355.3,0],
[355.31,9.8],[355.4,8.8],[355.5,9.5],[355.6,9.0],[355.7,9.8],[355.8,9.2],[355.9,9.5],[356.05,9.0],[356.15,0],[356.35,0],
[356.36,9.5],[356.45,8.8],[356.55,9.8],[356.65,9.0],[356.75,9.5],[356.85,9.0],[356.95,9.8],[357.05,0],[357.3,0],
[357.31,9.0],[357.4,8.5],[357.5,9.8],[357.6,9.0],[357.7,9.5],[357.8,8.8],[357.9,9.6],[358.08,9.0],[358.1,0],[358.35,0],
[358.36,9.5],[358.45,9.0],[358.55,9.8],[358.65,9.2],[358.75,11.8],[358.8,9.0],[358.9,9.5],[359.03,9.2],[359.05,0],[359.3,0],
[359.31,9.0],[359.4,9.5],[359.5,9.0],[359.6,9.8],[359.7,9.2],[359.8,9.6],[359.93,9.5],[359.95,0],[360,0]];

// --- labels: fit to measured width ---
function placeText(id, cx, cy, width, rotate) {
    const el = document.getElementById(id);
    const k = width / el.offsetWidth;
    el.style.left = cx + 'px';
    el.style.top = cy + 'px';
    el.style.transform = 'translate(-50%,-50%)' + (rotate ? ' rotate(-90deg)' : '') + ' scaleX(' + k.toFixed(3) + ')';
}
placeText('title1', 312, 21, 376, false);
placeText('title2', 904, 37, 362, false);
placeText('rowSummer', 32, 176, 112, true);
placeText('rowWinter', 32, 407, 66, true);

// --- frame, inward ticks, dotted grid and legend (matlab look) ---
const axesPlugin = {
    id: 'axesLook',
    beforeDatasetsDraw(chart, args, o) {
        if (!o.grid) return;
        const { ctx, chartArea: a, scales: { x, y } } = chart;
        ctx.save();
        ctx.strokeStyle = '#bdbdbd';
        ctx.lineWidth = 1;
        ctx.setLineDash([1, 3]);
        ctx.beginPath();
        x.ticks.forEach(t => { const p = Math.round(x.getPixelForValue(t.value)) + 0.5; ctx.moveTo(p, a.top); ctx.lineTo(p, a.bottom); });
        y.ticks.forEach(t => { const p = Math.round(y.getPixelForValue(t.value)) + 0.5; ctx.moveTo(a.left, p); ctx.lineTo(a.right, p); });
        ctx.stroke();
        ctx.restore();
    },
    afterDatasetsDraw(chart, args, o) {
        const { ctx, chartArea: a, scales: { x, y } } = chart;
        ctx.save();
        ctx.strokeStyle = '#8a8a8a';
        ctx.lineWidth = 1;
        ctx.beginPath();
        x.ticks.forEach(t => {
            const p = Math.round(x.getPixelForValue(t.value)) + 0.5;
            ctx.moveTo(p, a.bottom); ctx.lineTo(p, a.bottom - 5);
            ctx.moveTo(p, a.top); ctx.lineTo(p, a.top + 5);
        });
        y.ticks.forEach(t => {
            const p = Math.round(y.getPixelForValue(t.value)) + 0.5;
            ctx.moveTo(a.left, p); ctx.lineTo(a.left + 5, p);
            ctx.moveTo(a.right, p); ctx.lineTo(a.right - 5, p);
        });
        ctx.stroke();
        ctx.strokeRect(Math.round(a.left) + 0.5, Math.round(a.top) + 0.5, Math.round(a.right - a.left), Math.round(a.bottom - a.top));

        // legend box
        const L = o.legend;
        const bx = Math.round(a.right - L.dx - L.w) + 0.5, by = Math.round(a.top + L.dy) + 0.5;
        ctx.fillStyle = '#fff';
        ctx.fillRect(bx, by, L.w, L.h);
        ctx.strokeStyle = '#7a7a7a';
        ctx.strokeRect(bx, by, L.w, L.h);
        ctx.font = L.font + 'px "Liberation Sans", Arial, sans-serif';
        ctx.textBaseline = 'middle';
        ctx.fillStyle = '#222';
        const rows = [by + L.h * 0.29, by + L.h * 0.71];
        chart.data.datasets.forEach((ds, i) => {
            const r = rows[i];
            ctx.strokeStyle = ds.borderColor;
            ctx.lineWidth = 2.4;
            ctx.setLineDash(ds.borderDash || []);
            ctx.beginPath();
            ctx.moveTo(bx + 5, r); ctx.lineTo(bx + 5 + L.line, r);
            ctx.stroke();
            ctx.setLineDash([]);
            ctx.fillText(ds.label, bx + 6 + L.line, r + 1);
        });
        ctx.restore();
    }
};

const pts = arr => arr.map(p => ({ x: p[0], y: p[1] }));

function makePanel(id, box, xr, xt, yr, yt, dataArr, modelArr, look) {
    const yw = 48, padT = 10, padR = 26, xh = 34;
    const cv = document.getElementById(id);
    cv.width = box.R - box.L + yw + padR;
    cv.height = box.B - box.T + padT + xh;
    cv.style.left = (box.L - yw) + 'px';
    cv.style.top = (box.T - padT) + 'px';
    const tickFont = { family: '"Liberation Sans", Arial, sans-serif', size: look.font };
    return new Chart(cv, {
        type: 'line',
        data: {
            datasets: [
                { label: seriesNames[0], data: pts(dataArr), borderColor: '#000000', borderWidth: 3, pointRadius: 0, tension: 0, order: 2 },
                { label: seriesNames[1], data: pts(modelArr), borderColor: '#ff0000', borderWidth: 2.8, borderDash: [7, 3, 2, 3], pointRadius: 0, tension: 0, order: 1 }
            ]
        },
        options: {
            responsive: false,
            animation: false,
            events: [],
            layout: { autoPadding: false, padding: { left: 0, top: padT, right: padR, bottom: 0 } },
            plugins: { legend: { display: false }, tooltip: { enabled: false }, axesLook: { grid: look.grid, legend: look.legend } },
            scales: {
                x: {
                    type: 'linear', min: xr[0], max: xr[1],
                    afterBuildTicks: s => { s.ticks = xt.map(v => ({ value: v })); },
                    afterFit: s => { s.height = xh; },
                    grid: { display: false, drawTicks: false },
                    border: { display: false },
                    ticks: { font: tickFont, color: '#222', padding: look.xpad, maxRotation: 0, autoSkip: false }
                },
                y: {
                    min: yr[0], max: yr[1],
                    afterBuildTicks: s => { s.ticks = yt.map(v => ({ value: v })); },
                    afterFit: s => { s.width = yw; },
                    grid: { display: false, drawTicks: false },
                    border: { display: false },
                    ticks: { font: tickFont, color: '#222', padding: look.ypad, autoSkip: false }
                }
            }
        },
        plugins: [axesPlugin]
    });
}

makePanel('cTL', { L: 86, T: 76, R: 580, B: 268 }, [155, 185], summerDays, [-6, 1], tlYTicks, tlData, tlModel,
    { font: 14, xpad: 5, ypad: 6, grid: false, legend: { w: 67, h: 43, dx: 3, dy: 4, font: 14, line: 20 } });
makePanel('cTR', { L: 672, T: 67, R: 1163, B: 269 }, [155, 185], summerDays, [-12, 3], trYTicks, trData, trModel,
    { font: 16, xpad: 3, ypad: 9, grid: false, legend: { w: 70, h: 46, dx: 3, dy: 3, font: 15, line: 20 } });
makePanel('cBL', { L: 73, T: 320, R: 566, B: 509 }, [330, 360], winterDays, [-1, 7], blYTicks, blData, blModel,
    { font: 16, xpad: 5, ypad: 7, grid: true, legend: { w: 78, h: 44, dx: 3, dy: 5, font: 16, line: 23 } });
makePanel('cBR', { L: 669, T: 309, R: 1147, B: 517 }, [330, 360], winterDays, [-1, 15], brYTicks, brData, brModel,
    { font: 18, xpad: 2, ypad: 6, grid: false, legend: { w: 87, h: 49, dx: 1, dy: 1, font: 18, line: 25 } });
</script>
</body>
</html>
